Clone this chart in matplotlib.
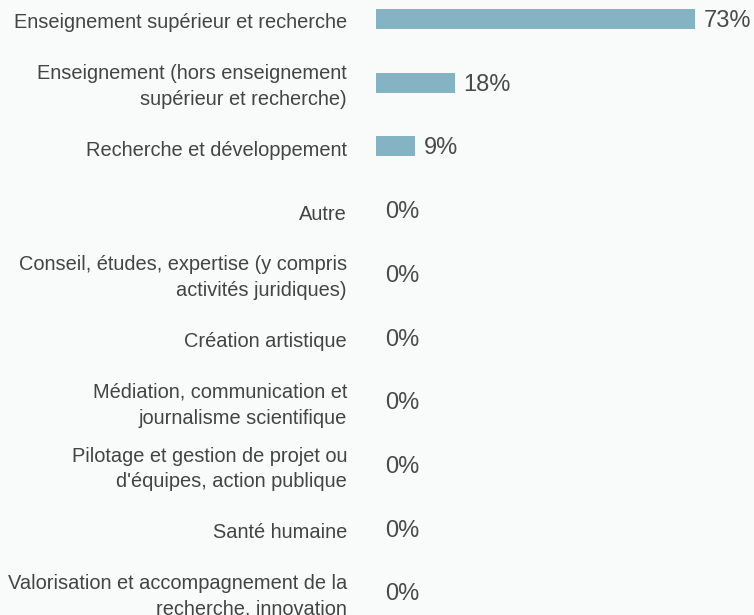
import matplotlib
matplotlib.use("Agg")
import matplotlib.pyplot as plt
from matplotlib.transforms import offset_copy

categories = [
    "Enseignement supérieur et recherche",
    "Enseignement (hors enseignement\nsupérieur et recherche)",
    "Recherche et développement",
    "Autre",
    "Conseil, études, expertise (y compris\nactivités juridiques)",
    "Création artistique",
    "Médiation, communication et\njournalisme scientifique",
    "Pilotage et gestion de projet ou\nd'équipes, action publique",
    "Santé humaine",
    "Valorisation et accompagnement de la\nrecherche, innovation",
]
values = [73, 18, 9, 0, 0, 0, 0, 0, 0, 0]

BG = "#f9fafa"
BAR = "#84b4c4"

plt.rcParams["font.family"] = ["Liberation Sans", "DejaVu Sans"]

fig = plt.figure(figsize=(7.54, 6.15), dpi=100, facecolor=BG)
ax = fig.add_axes([376 / 754, 0, 378 / 754, 1])
ax.set_facecolor(BG)

row = 63.7
y = list(range(len(categories)))
ax.barh(y, values, height=20 / row, color=BAR)
ax.set_xlim(0, 378 / 4.37)
ax.set_ylim((615 - 19) / row, -19 / row)
ax.axis("off")

lab_tr = offset_copy(ax.get_yaxis_transform(), fig=fig, x=-29, y=-4, units="dots")
for i, name in enumerate(categories):
    ax.text(0, i, name, transform=lab_tr, ha="right", va="center",
            fontsize=14.4, color="#444444", linespacing=1.45, clip_on=False)

val_tr = offset_copy(ax.transData, fig=fig, x=9, y=-2, units="dots")
for i, v in enumerate(values):
    ax.text(v, i, f"{v}%", transform=val_tr, ha="left", va="center",
            fontsize=17, color="#4a4a4a", clip_on=False)

fig.savefig("out.png", dpi=100, facecolor=BG)
